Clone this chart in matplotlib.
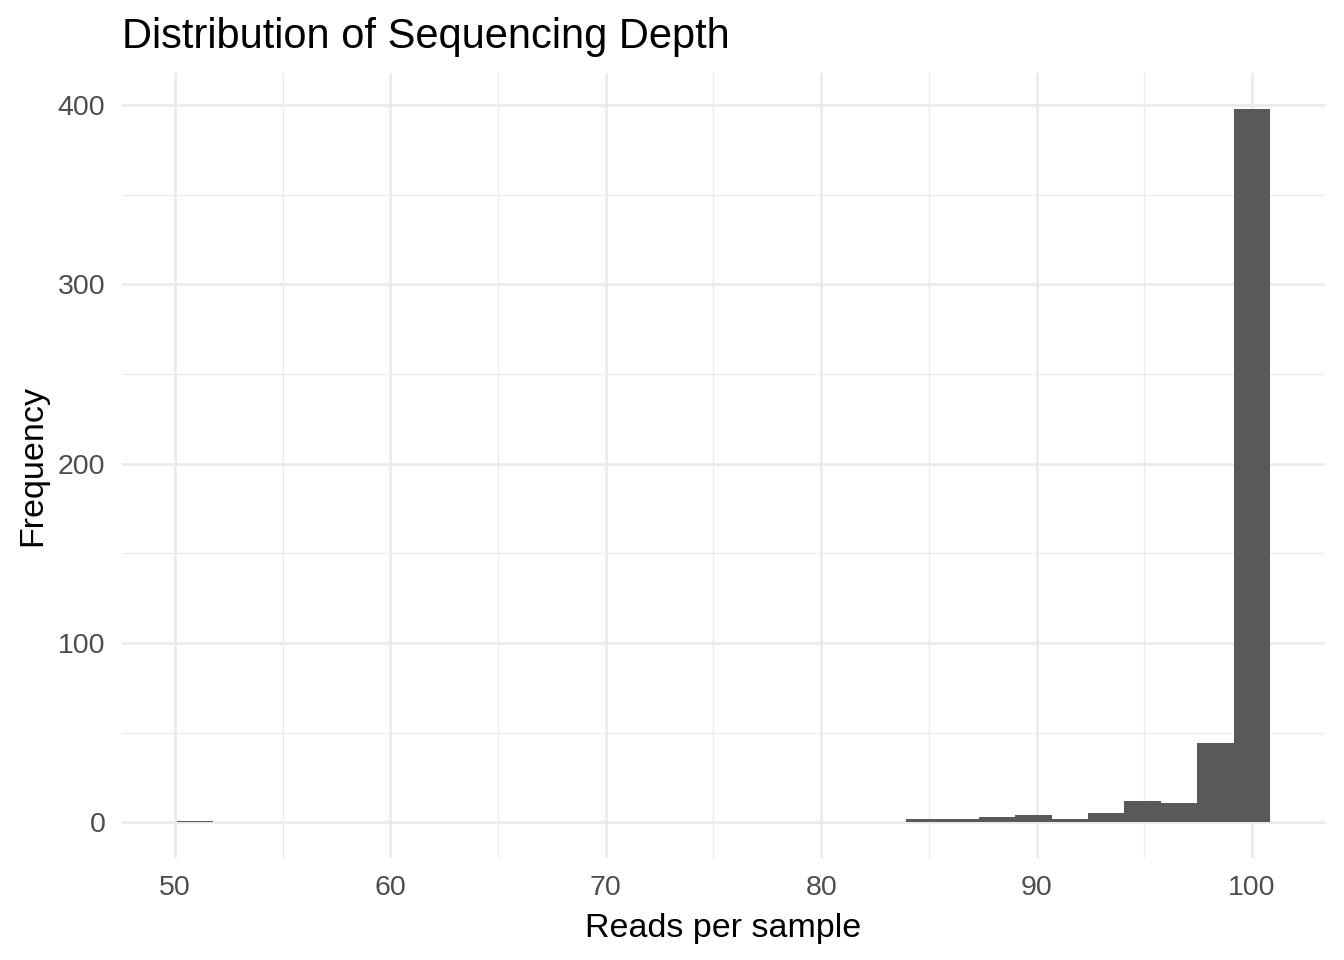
import numpy as np
import matplotlib
matplotlib.use("Agg")
import matplotlib.pyplot as plt

# Data (histogram with 30 bins, ggplot-style centred bins)
data_min = 50.93
data_max = 100.0
n_bins = 30
counts = [1, 0, 0, 0, 0, 0, 0, 0, 0, 0,
          0, 0, 0, 0, 0, 0, 0, 0, 0, 0,
          2, 2, 3, 4, 2, 5, 12, 11, 44, 398]
x_ticks = [50, 60, 70, 80, 90, 100]
y_ticks = [0, 100, 200, 300, 400]
title = "Distribution of Sequencing Depth"
xlabel = "Reads per sample"
ylabel = "Frequency"

plt.rcParams['font.family'] = ['Liberation Sans', 'DejaVu Sans']

width = (data_max - data_min) / (n_bins - 1)
centers = data_min + width * np.arange(n_bins)

fig = plt.figure(figsize=(13.44, 9.6), dpi=100)
ax = fig.add_axes([122/1344, 1 - 858/960, (1325-122)/1344, (858-73)/960])

ax.bar(centers, counts, width=width, color="#595959", linewidth=0, zorder=3)

lo = centers[0] - width/2
hi = centers[-1] + width/2
pad = (hi - lo) * 0.05
ax.set_xlim(lo - pad, hi + pad)
ymax = max(counts)
ax.set_ylim(-ymax*0.05, ymax*1.05)

ax.set_xticks(x_ticks)
ax.set_yticks(y_ticks)
ax.set_xticks([55, 65, 75, 85, 95], minor=True)
ax.set_yticks([50, 150, 250, 350], minor=True)
ax.grid(which='major', color='#EBEBEB', linewidth=2.0, zorder=0)
ax.grid(which='minor', color='#EBEBEB', linewidth=1.0, zorder=0)
ax.set_axisbelow(True)
for s in ax.spines.values():
    s.set_visible(False)
ax.tick_params(which='both', length=0)
ax.tick_params(axis='x', labelsize=20.5, labelcolor='#4D4D4D', pad=12)
ax.tick_params(axis='y', labelsize=20.5, labelcolor='#4D4D4D', pad=12)

ax.set_xlabel(xlabel, fontsize=24.5, color='black', labelpad=9)
ax.set_ylabel(ylabel, fontsize=24.5, color='black', labelpad=7)
fig.text(122/1344, 1 - 48/960, title, fontsize=30, color='black', ha='left', va='baseline')

fig.savefig("out.png", dpi=100, facecolor='white')
